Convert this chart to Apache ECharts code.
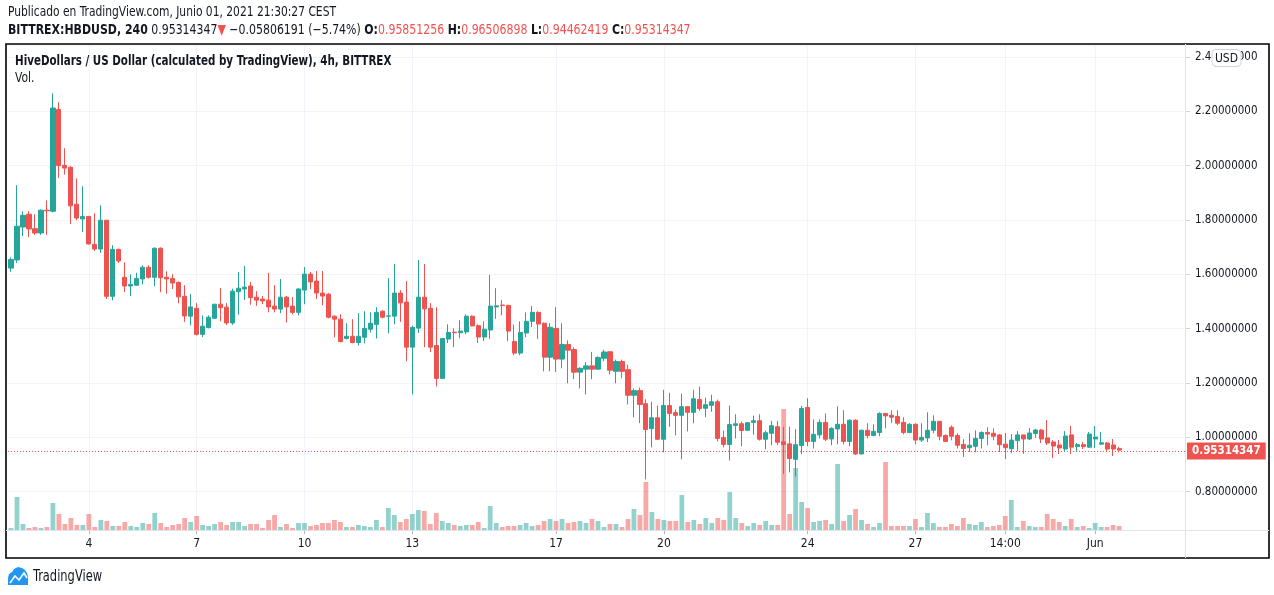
<!DOCTYPE html>
<html><head><meta charset="utf-8">
<script src="https://cdn.jsdelivr.net/npm/echarts@6/dist/echarts.min.js"></script>
<style>html,body{margin:0;padding:0;background:#fff}#c{width:1274px;height:595px}</style>
</head><body><div id="c"></div><script>
// ---- data (4h candles, BITTREX:HBDUSD) ----
const opens = [1.623,1.653,1.774,1.821,1.768,1.752,1.836,1.832,2.207,2.001,
1.994,1.858,1.804,1.813,1.710,1.693,1.799,1.519,1.692,1.589,
1.557,1.560,1.583,1.626,1.589,1.696,1.589,1.585,1.570,1.519,
1.446,1.475,1.379,1.404,1.438,1.490,1.479,1.421,1.536,1.546,
1.557,1.516,1.509,1.505,1.483,1.472,1.516,1.483,1.460,1.542,
1.601,1.575,1.531,1.527,1.446,1.435,1.364,1.372,1.349,1.368,
1.398,1.416,1.464,1.446,1.446,1.531,1.498,1.332,1.402,1.516,
1.475,1.338,1.217,1.362,1.387,1.385,1.388,1.446,1.411,1.369,
1.395,1.480,1.487,1.486,1.353,1.310,1.384,1.427,1.460,1.420,
1.295,1.401,1.288,1.342,1.323,1.240,1.251,1.263,1.251,1.291,
1.315,1.243,1.279,1.249,1.155,1.172,1.124,1.032,1.072,0.993,
1.117,1.091,1.081,1.113,1.092,1.139,1.107,1.118,1.131,0.999,
0.974,1.044,1.050,1.026,1.055,1.061,0.993,1.015,1.039,0.984,
0.976,0.919,0.970,1.110,0.985,1.009,1.055,0.994,1.031,1.048,
0.985,1.063,0.939,1.026,1.007,1.018,1.088,1.081,1.077,1.055,
1.018,1.048,0.990,0.998,1.026,1.059,1.007,1.037,1.007,0.974,
0.962,0.967,0.996,1.018,1.015,1.009,0.975,0.958,0.988,1.009,
0.994,1.014,1.027,0.998,0.983,0.972,0.957,1.009,0.966,0.973,
0.964,0.994,0.975,0.979,0.972,0.95851256];
const highs = [1.663,1.928,1.832,1.832,1.821,1.839,1.872,2.266,2.233,2.064,
1.998,1.953,1.924,1.815,1.825,1.854,1.801,1.707,1.694,1.644,
1.599,1.606,1.633,1.633,1.699,1.699,1.611,1.600,1.574,1.560,
1.527,1.494,1.449,1.449,1.490,1.549,1.494,1.547,1.609,1.631,
1.572,1.538,1.520,1.605,1.560,1.583,1.520,1.516,1.549,1.627,
1.609,1.612,1.612,1.531,1.449,1.453,1.420,1.435,1.457,1.464,
1.460,1.479,1.468,1.586,1.638,1.542,1.575,1.411,1.653,1.638,
1.494,1.479,1.364,1.416,1.401,1.431,1.453,1.449,1.416,1.427,
1.598,1.549,1.505,1.487,1.416,1.427,1.460,1.483,1.464,1.423,
1.420,1.479,1.420,1.357,1.331,1.258,1.277,1.314,1.298,1.323,
1.315,1.286,1.286,1.267,1.180,1.183,1.140,1.131,1.117,1.175,
1.164,1.102,1.161,1.115,1.175,1.187,1.146,1.157,1.139,1.025,
1.117,1.085,1.058,1.056,1.080,1.085,1.025,1.061,1.061,1.039,
1.039,1.030,1.116,1.144,1.066,1.066,1.088,1.037,1.114,1.100,
1.066,1.066,1.029,1.052,1.048,1.092,1.089,1.100,1.100,1.074,
1.052,1.052,1.052,1.092,1.081,1.060,1.011,1.044,1.015,0.993,
1.015,1.026,1.022,1.037,1.033,1.012,1.016,1.012,1.023,1.009,
1.034,1.031,1.031,1.064,0.990,0.990,1.023,1.042,0.979,0.983,
1.020,1.042,1.020,0.983,0.994,0.96506898];
const lows = [1.609,1.642,1.741,1.737,1.745,1.745,1.745,1.828,1.955,1.967,
1.785,1.799,1.756,1.709,1.686,1.679,1.509,1.504,1.642,1.535,
1.520,1.557,1.563,1.584,1.556,1.534,1.528,1.546,1.493,1.425,
1.412,1.375,1.369,1.401,1.436,1.427,1.414,1.414,1.451,1.506,
1.488,1.484,1.491,1.460,1.460,1.457,1.423,1.453,1.449,1.490,
1.546,1.509,1.486,1.438,1.368,1.349,1.360,1.346,1.338,1.346,
1.386,1.364,1.438,1.383,1.416,1.425,1.280,1.158,1.384,1.332,
1.314,1.188,1.214,1.347,1.332,1.365,1.380,1.409,1.347,1.354,
1.362,1.436,1.449,1.354,1.302,1.302,1.369,1.406,1.362,1.243,
1.243,1.240,1.254,1.199,1.214,1.180,1.158,1.214,1.249,1.280,
1.232,1.199,1.217,1.121,1.074,1.052,0.845,0.963,0.990,0.945,
1.039,1.007,0.919,1.022,1.052,1.098,1.074,1.094,0.985,0.963,
0.915,0.996,0.967,1.024,1.010,0.988,0.956,0.971,0.971,0.865,
0.871,0.856,0.938,0.967,0.959,0.996,0.986,0.971,0.974,0.974,
0.967,0.935,0.937,0.996,1.004,1.004,1.033,1.052,1.045,1.011,
1.015,0.974,0.983,0.983,1.015,0.989,0.982,0.989,0.959,0.928,
0.946,0.946,0.959,0.971,0.989,0.946,0.920,0.942,0.950,0.939,
0.990,0.998,0.979,0.972,0.924,0.939,0.950,0.939,0.950,0.957,
0.961,0.961,0.972,0.950,0.931,0.94462419];
const closes = [1.655,1.777,1.817,1.767,1.752,1.836,1.834,2.212,2.000,1.991,
1.852,1.807,1.813,1.712,1.693,1.799,1.519,1.692,1.649,1.557,
1.563,1.585,1.626,1.589,1.696,1.587,1.583,1.568,1.517,1.447,
1.480,1.379,1.409,1.442,1.490,1.477,1.421,1.538,1.549,1.553,
1.514,1.505,1.502,1.480,1.472,1.516,1.480,1.460,1.546,1.601,
1.572,1.531,1.520,1.442,1.435,1.353,1.372,1.349,1.372,1.401,
1.420,1.460,1.442,1.447,1.531,1.495,1.332,1.405,1.516,1.473,
1.332,1.217,1.364,1.386,1.385,1.391,1.446,1.410,1.369,1.398,
1.483,1.484,1.485,1.391,1.310,1.386,1.427,1.460,1.417,1.295,
1.405,1.288,1.342,1.321,1.240,1.254,1.263,1.251,1.294,1.314,
1.247,1.279,1.243,1.155,1.172,1.121,1.029,1.072,0.993,1.117,
1.088,1.081,1.113,1.092,1.142,1.106,1.120,1.131,0.996,0.974,
1.047,1.050,1.025,1.054,1.061,0.993,1.017,1.043,0.982,0.974,
0.922,0.973,1.106,0.985,1.011,1.055,0.993,1.033,1.048,0.985,
1.063,0.939,1.026,1.007,1.022,1.088,1.079,1.074,1.052,1.018,
1.048,0.990,1.000,1.026,1.059,1.004,0.985,1.004,0.971,0.959,
0.971,0.996,1.018,1.012,1.004,0.973,0.962,0.990,1.009,0.994,
1.016,1.027,0.994,0.979,0.968,0.961,1.005,0.964,0.973,0.966,
1.012,1.001,0.980,0.957,0.957,0.95314347];
const volumes = [2,33,6,2,3,2,3,27,16,6,
12,5,5,16,3,10,9,4,4,8,
4,3,7,6,17,7,3,5,6,12,
8,14,5,4,6,8,5,8,8,4,
6,6,2,10,15,3,6,2,7,7,
4,5,7,7,10,8,3,3,5,4,
3,10,3,22,15,8,11,16,20,19,
6,17,9,7,5,4,5,5,8,2,
24,7,3,4,4,5,7,4,5,9,
11,9,11,7,8,9,7,11,9,3,
6,6,3,11,21,15,48,18,11,10,
9,9,35,8,10,6,12,7,12,10,
38,12,7,4,7,5,9,5,5,121,
16,62,28,22,8,9,10,6,66,9,
15,21,10,6,3,7,68,4,4,4,
4,11,3,17,7,3,3,6,4,12,
6,5,8,3,4,5,14,30,3,9,
4,3,3,16,11,8,4,11,3,4,
2,7,3,3,5,4];
const tickCats  = ['2021-05-04 02:00','2021-05-07 02:00','2021-05-10 02:00','2021-05-13 02:00','2021-05-17 02:00','2021-05-20 02:00','2021-05-24 02:00','2021-05-27 02:00','2021-05-29 14:00','2021-06-01 02:00'];
const tickTexts = ['4','7','10','13','17','20','24','27','14:00','Jun'];
const priceTicks = [0.8,1.0,1.2,1.4,1.6,1.8,2.0,2.2,2.4];

// ---- categories: one pad slot, the candles (from May 1 22:00, every 4h), empty slots on the right ----
const pad = (n) => String(n).padStart(2,'0');
const fmt = (t) => { const d = new Date(t); return d.getUTCFullYear()+'-'+pad(d.getUTCMonth()+1)+'-'+pad(d.getUTCDate())+' '+pad(d.getUTCHours())+':00'; };
const t0 = Date.UTC(2021,4,1,22);
const H4 = 4*3600*1000;
const categories = [];
for (let i = -1; i < 197; i++) categories.push(fmt(t0 + i*H4));
const nBefore = 1;
const candleData = [], volData = [];
categories.forEach((c, i) => {
  const k = i - nBefore;
  if (k >= 0 && k < opens.length) {
    candleData.push([opens[k], closes[k], lows[k], highs[k]]);
    const up = closes[k] >= opens[k];
    volData.push({value: volumes[k], itemStyle: {color: up ? 'rgba(38,166,154,0.5)' : 'rgba(239,83,80,0.5)'}});
  } else { candleData.push('-'); volData.push('-'); }
});
const tickMap = {}; tickCats.forEach((c,i)=>tickMap[c]=tickTexts[i]);
const isTick = (idx, val) => tickMap[val] !== undefined;
const lastClose = closes[closes.length-1];
const lastOpen = opens[opens.length-1], lastHigh = highs[highs.length-1], lastLow = lows[lows.length-1];

const F = "'DejaVu Sans Condensed','DejaVu Sans',sans-serif";
const TXT = '#131722', UPC = '#26a69a', DNC = '#ef5350';

const chart = echarts.init(document.getElementById('c'), null, {renderer:'canvas'});
chart.setOption({
  animation: false,
  backgroundColor: '#fff',
  grid: [
    {left: 5, right: 89, top: 45, bottom: 65},
    {left: 5, right: 89, bottom: 65, height: 150}
  ],
  xAxis: [
    {type:'category', gridIndex:0, data: categories, boundaryGap:false,
     axisLine:{show:false}, axisTick:{show:false}, axisLabel:{show:false},
     splitLine:{show:true, interval: isTick, lineStyle:{color:'#f0f3fa', width:1}}},
    {type:'category', gridIndex:1, data: categories, boundaryGap:false,
     axisLine:{show:false},
     axisTick:{show:true, interval: isTick, length:4, lineStyle:{color:'#b2b5be'}},
     axisLabel:{show:true, interval: isTick, formatter: (v)=>tickMap[v]||'', color: TXT, fontSize:12, fontFamily:F, margin:8},
     splitLine:{show:false}}
  ],
  yAxis: [
    {type:'value', gridIndex:0, position:'right', min:0.659, max:2.444, splitNumber:9, minInterval:0.2, maxInterval:0.2,
     axisLine:{show:false},
     axisTick:{show:true, length:5, lineStyle:{color:'#d1d4dc'}},
     axisLabel:{show:true, showMinLabel:false, showMaxLabel:false, margin:10, color:TXT, fontSize:11.5, fontFamily:F,
                formatter:(v)=> priceTicks.some(p=>Math.abs(p-v)<1e-6) ? v.toFixed(8) : ''},
     splitLine:{show:true, lineStyle:{color:'#f0f3fa', width:1}}},
    {type:'value', gridIndex:1, min:0, max:150, show:false}
  ],
  series: [
    {type:'bar', name:'Vol', xAxisIndex:1, yAxisIndex:1, data: volData, barWidth:'80%', z:1, silent:true},
    {type:'candlestick', name:'HBDUSD', xAxisIndex:0, yAxisIndex:0, data: candleData, barWidth:'78%', z:3,
     itemStyle:{color:UPC, color0:DNC, borderColor:UPC, borderColor0:DNC, borderWidth:1},
     markLine:{silent:true, symbol:['none','none'], animation:false,
       lineStyle:{color:DNC, type:[1,2], width:1},
       label:{show:true, position:'end', distance:2, formatter: ()=>lastClose.toFixed(8),
              backgroundColor:DNC, color:'#fff', padding:[3,5,2,5], fontSize:11.5, fontWeight:'bold', fontFamily:F},
       data:[{yAxis:lastClose}]}}
  ],
  graphic: [
    {type:'rect', z:50, silent:true, shape:{x:6, y:44, width:1263, height:514}, style:{fill:'none', stroke:'#000', lineWidth:1.6}},
    {type:'line', z:50, silent:true, shape:{x1:1185.5, y1:44, x2:1185.5, y2:558}, style:{stroke:'#e0e3eb', lineWidth:1}},
    {type:'line', z:50, silent:true, shape:{x1:6, y1:530.5, x2:1269, y2:530.5}, style:{stroke:'#e0e3eb', lineWidth:1}},
    {type:'text', z:50, silent:true, x:8, y:12, scaleX:0.85, style:{x:0, y:0, text:'Publicado en TradingView.com, Junio 01, 2021 21:30:27 CEST', font:'14px '+F, fill:TXT, verticalAlign:'middle'}},
    {type:'text', z:50, silent:true, x:8, y:30, scaleX:0.87, style:{x:0, y:0,
      text:'{b|BITTREX:HBDUSD, 240} {n|'+lastClose.toFixed(8)+'}{r|▼} {n|−0.05806191 (−5.74%)} {b|O:}{r|'+lastOpen.toFixed(8)+'} {b|H:}{r|'+lastHigh.toFixed(8)+'} {b|L:}{r|'+lastLow.toFixed(8)+'} {b|C:}{r|'+lastClose.toFixed(8)+'}',
      verticalAlign:'middle', font:'14px '+F, fill:TXT,
      rich:{ b:{font:'bold 14px '+F, fill:TXT}, n:{font:'14px '+F, fill:TXT}, r:{font:'14px '+F, fill:DNC} }}},
    {type:'text', z:50, silent:true, x:15, y:61, scaleX:0.82, style:{x:0, y:0, text:'HiveDollars / US Dollar (calculated by TradingView), 4h, BITTREX', font:'bold 14px '+F, fill:TXT, verticalAlign:'middle'}},
    {type:'text', z:50, silent:true, x:15, y:78, scaleX:0.85, style:{x:0, y:0, text:'Vol.', font:'14px '+F, fill:TXT, verticalAlign:'middle'}},
    {type:'rect', z:60, silent:true, shape:{x:1212, y:49.5, width:29, height:17, r:4}, style:{fill:'#fff', stroke:'#d1d4dc', lineWidth:1}},
    {type:'text', z:61, silent:true, style:{x:1226.5, y:58.5, text:'USD', font:'12px '+F, fill:TXT, align:'center', verticalAlign:'middle'}},
    {type:'polygon', z:50, silent:true, shape:{points:[[8,585],[8,578],[9,574],[12,572],[14,569],[18,567],[22,568],[25,570],[27,573],[28,577],[28,585]]}, style:{fill:'#2196f3'}},
    {type:'polyline', z:51, silent:true, shape:{points:[[10,583],[15,576],[19,580],[24,573],[27,578]]}, style:{stroke:'#fff', lineWidth:1.6, fill:'none'}},
    {type:'text', z:50, silent:true, x:33, y:577, scaleX:0.85, style:{x:0, y:0, text:'TradingView', font:'15px '+F, fill:TXT, verticalAlign:'middle'}}
  ]
});
</script></body></html>
